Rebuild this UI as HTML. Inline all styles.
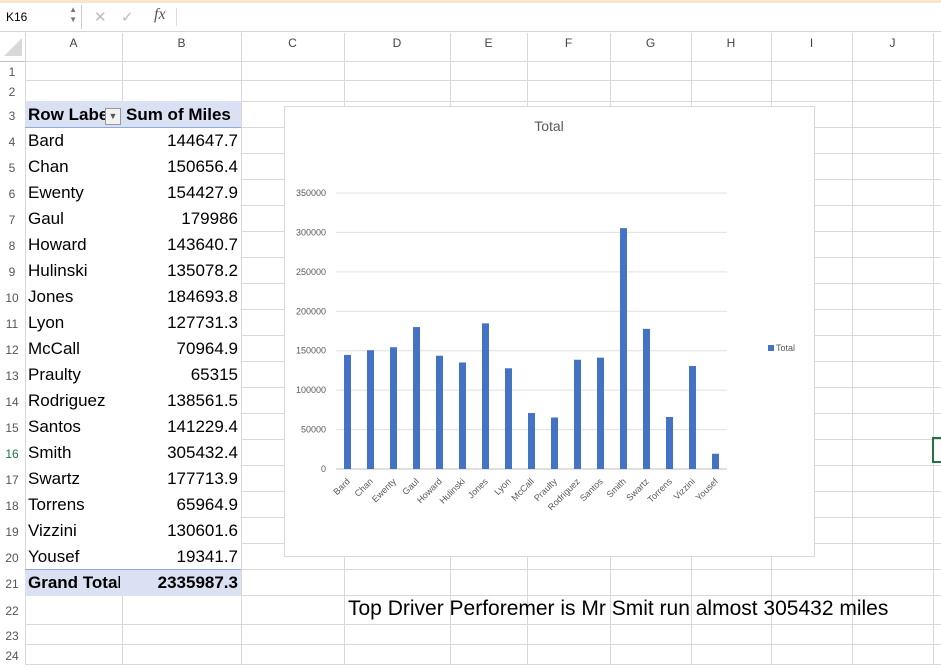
<!DOCTYPE html>
<html><head><meta charset="utf-8"><style>
body{margin:0;width:941px;height:664px;overflow:hidden;background:#fff;font-family:"Liberation Sans",sans-serif;position:relative}
.a{position:absolute}
.hl{position:absolute;height:1px;background:#d9d9d9}
.vl{position:absolute;width:1px;background:#d9d9d9}
.cell{position:absolute;font-size:17px;color:#000;line-height:26px;white-space:nowrap;z-index:3}
.rh{position:absolute;left:0;width:24px;text-align:center;font-size:12px;color:#555}
.ch{position:absolute;top:36px;font-size:12px;color:#444;text-align:center}
</style></head><body>
<div class="a" style="left:0;top:0;width:941px;height:32px;background:#fff;border-top:3px solid #f6e7c8;box-sizing:border-box;border-bottom:1px solid #d4d4d4"></div>
<div class="a" style="left:0;top:5px;width:82px;height:24px;border-right:1px solid #ccc;font-size:12px;line-height:24px;padding-left:6px;box-sizing:border-box">K16<span style="position:absolute;right:4px;top:0;font-size:8px;color:#777;line-height:10px">▲<br>▼</span></div>
<div class="a" style="left:94px;top:8px;color:#bbb;font-size:15px">✕</div>
<div class="a" style="left:121px;top:8px;color:#bbb;font-size:15px">✓</div>
<div class="a" style="left:154px;top:6px;font-family:'Liberation Serif',serif;font-style:italic;font-size:16px;color:#555">fx</div>
<div class="a" style="left:176px;top:8px;width:1px;height:18px;background:#ddd"></div>
<div class="a" style="left:0;top:33px;width:941px;height:28px;background:#fff;border-bottom:1px solid #bfbfbf"></div>
<div class="a" style="left:4px;top:38px;width:0;height:0;border-left:18px solid transparent;border-bottom:18px solid #d8d8d8"></div>
<div id="grid"></div>
<div class="a" style="left:25px;top:101px;width:216px;height:26px;background:#d9e1f2;border-bottom:1px solid #8ea9db;z-index:2"></div>
<div class="a" style="left:25px;top:569px;width:216px;height:26px;background:#d9e1f2;border-top:1px solid #8ea9db;z-index:2"></div>
<div id="cells"></div>
<div class="a" style="left:105px;top:108px;width:14px;height:15px;background:#f2f2f2;border:1px solid #999;font-size:9px;line-height:15px;text-align:center;color:#555;z-index:4">▼</div>
<div class="a" style="left:932px;top:437px;width:9px;height:26px;border:2px solid #217346;box-sizing:border-box;border-right:none"></div>
<div class="cell" style="left:348px;top:596px;font-size:21px">Top Driver Perforemer is Mr Smit run almost 305432 miles</div>
<svg class="a" style="left:284px;top:106px;z-index:2" width="531" height="451" id="chart"></svg>
<script>
const names=["Bard","Chan","Ewenty","Gaul","Howard","Hulinski","Jones","Lyon","McCall","Praulty","Rodriguez","Santos","Smith","Swartz","Torrens","Vizzini","Yousef"];
const miles=[144647.7,150656.4,154427.9,179986,143640.7,135078.2,184693.8,127731.3,70964.9,65315,138561.5,141229.4,305432.4,177713.9,65964.9,130601.6,19341.7];
const milesText=["144647.7","150656.4","154427.9","179986","143640.7","135078.2","184693.8","127731.3","70964.9","65315","138561.5","141229.4","305432.4","177713.9","65964.9","130601.6","19341.7"];
const ticks=[0,50000,100000,150000,200000,250000,300000,350000];
const grandTotal="2335987.3";

const g=document.getElementById('grid');
const colX=[25,122,241,344,450,527,610,691,771,852,933];
const cols=["A","B","C","D","E","F","G","H","I","J"];
const rowY=[61,80,101];for(let i=1;i<=19;i++)rowY.push(101+i*26);rowY.push(624,644,664);
let h='';
rowY.forEach(y=>{const x0=(y>101&&y<595)?241:25;h+=`<div class="hl" style="left:${x0}px;top:${y}px;width:${941-x0}px"></div>`;});
colX.forEach(x=>{
 if(x===122){
  h+=`<div class="vl" style="left:${x}px;top:33px;height:68px"></div>`;
  h+=`<div class="vl" style="left:${x}px;top:595px;height:69px"></div>`;
 } else h+=`<div class="vl" style="left:${x}px;top:33px;height:631px"></div>`;});
cols.forEach((c,i)=>{h+=`<div class="ch" style="left:${colX[i]}px;width:${colX[i+1]-colX[i]}px">${c}</div>`;});
for(let r=1;r<=24;r++){const t=rowY[r-1],b=rowY[r];h+=`<div class="rh" style="top:${t}px;height:${b-t}px;line-height:${b-t+4}px;${r==16?'color:#217346':''}">${r}</div>`;}
g.innerHTML=h;
let c='';
c+=`<div class="cell" style="left:28px;top:102px;font-weight:bold;width:78px;overflow:hidden">Row Labels</div>`;
c+=`<div class="cell" style="left:126px;top:102px;font-weight:bold">Sum of Miles</div>`;
names.forEach((n,i)=>{const t=127+i*26;
c+=`<div class="cell" style="left:28px;top:${t+1}px">${n}</div>`;
c+=`<div class="cell" style="left:122px;width:116px;text-align:right;top:${t+1}px">${milesText[i]}</div>`;});
c+=`<div class="cell" style="left:28px;top:570px;font-weight:bold;width:92px;overflow:hidden">Grand Total</div>`;
c+=`<div class="cell" style="left:122px;width:116px;text-align:right;top:570px;font-weight:bold">${grandTotal}</div>`;
document.getElementById('cells').innerHTML=c;

const ns="http://www.w3.org/2000/svg",svg=document.getElementById('chart');
function el(t,a,p){const e=document.createElementNS(ns,t);for(const k in a)e.setAttribute(k,a[k]);(p||svg).appendChild(e);return e;}
const ox=284,oy=106;
const y0=469-oy,ymax=350000,yPix=276;
const yS=v=>y0-v/ymax*yPix;
const xL=336-ox,xR=727-ox,step=(xR-xL)/names.length;
const xS=i=>xL+step*(i+0.5);
const bg=el('rect',{x:0.5,y:0.5,width:530,height:450,fill:'#fff',stroke:'#d9d9d9'});


const tt=el('text',{x:265,y:25,'text-anchor':'middle','font-size':14,fill:'#595959','font-family':'Liberation Sans'});tt.textContent='Total';


ticks.forEach(v=>{
 const ln=el('line',{x1:xL,x2:xR,y1:yS(v),y2:yS(v),stroke:v?'#e0e0e0':'#bfbfbf'});
 
 
 const t=el('text',{x:xL-10,y:yS(v)+3,'text-anchor':'end','font-size':9,fill:'#595959','font-family':'Liberation Sans'});t.textContent=v;
 
 
});
miles.forEach((v,i)=>{
 const r=el('rect',{x:xS(i)-3.5,y:yS(v),width:7,height:y0-yS(v),fill:'#4472c4'});
 
 
 const t=el('text',{x:0,y:0,'text-anchor':'end','font-size':9,fill:'#595959','font-family':'Liberation Sans',transform:`translate(${xS(i)+3},${y0+13}) rotate(-45)`});t.textContent=names[i];
 
 
});
const lg=el('rect',{x:484,y:239,width:6,height:6,fill:'#4472c4'});


const lt=el('text',{x:492,y:245,'font-size':9,fill:'#595959','font-family':'Liberation Sans'});lt.textContent='Total';


</script>
</body></html>
